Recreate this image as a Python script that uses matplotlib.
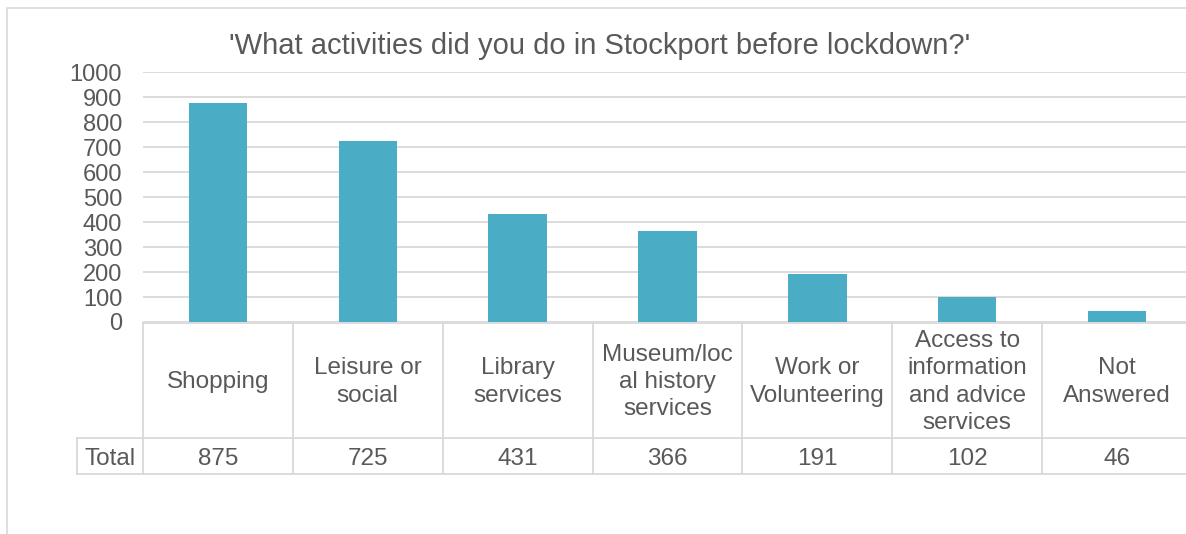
import matplotlib

matplotlib.use("Agg")
import matplotlib.pyplot as plt
from matplotlib.patches import Rectangle

categories = [
    "Shopping",
    "Leisure or\nsocial",
    "Library\nservices",
    "Museum/loc\nal history\nservices",
    "Work or\nVolunteering",
    "Access to\ninformation\nand advice\nservices",
    "Not\nAnswered",
]
totals = [875, 725, 431, 366, 191, 102, 46]
y_ticks = [0, 100, 200, 300, 400, 500, 600, 700, 800, 900, 1000]
title = "'What activities did you do in Stockport before lockdown?'"

BAR = "#4BACC6"
TEXT = "#595959"
GRID = "#D9D9D9"
W, H = 1186, 534
FS = 17.5

plt.rcParams["font.family"] = ["Liberation Sans", "DejaVu Sans"]

fig = plt.figure(figsize=(W / 100, H / 100), dpi=100)


def px_box(x0, y0, x1, y1):
    """Convert a pixel box (top-left origin) into figure fractions."""
    return [x0 / W, 1 - y1 / H, (x1 - x0) / W, (y1 - y0) / H]


# chart area frame (runs off the right and bottom edges)
fig.patches.append(Rectangle((7 / W, -0.1), 1.2, 1 - 8 / H + 0.1, transform=fig.transFigure,
                             fill=False, ec=GRID, lw=1.2))

plot_left, plot_right = 143, 1192
ax = fig.add_axes(px_box(plot_left, 72, plot_right, 322))
n = len(categories)
ax.bar([i + 0.5 for i in range(n)], totals, width=0.39, color=BAR, zorder=3)
ax.set_xlim(0, n)
ax.set_ylim(0, 1000)
ax.set_yticks(y_ticks)
ax.set_yticklabels([str(v) for v in y_ticks], fontsize=17, color=TEXT)
ax.tick_params(axis="y", length=0, pad=15)
ax.set_xticks([])
ax.grid(axis="y", color=GRID, lw=1.3, zorder=0)
for side in ax.spines.values():
    side.set_visible(False)

# data table under the plot
tab = fig.add_axes(px_box(plot_left, 322, plot_right, 475))
tab.set_xlim(0, n)
tab.set_ylim(475, 322)
tab.axis("off")
row_split = 438
left_cell = (77 - plot_left) / ((plot_right - plot_left) / n)
line_kw = dict(color=GRID, lw=1.3, clip_on=False)
tab.plot([0, n], [323, 323], **line_kw)
tab.plot([left_cell, n], [row_split, row_split], **line_kw)
tab.plot([left_cell, n], [474, 474], **line_kw)
tab.plot([left_cell, left_cell], [row_split, 474], **line_kw)
for i in range(n + 1):
    tab.plot([i, i], [323, 474], **line_kw)

for i, (label, value) in enumerate(zip(categories, totals)):
    tab.text(i + 0.5, (322 + row_split) / 2 + 2, label, ha="center", va="center",
             fontsize=FS, color=TEXT, linespacing=1.31)
    tab.text(i + 0.5, (row_split + 475) / 2 + 3, str(value), ha="center", va="center",
             fontsize=FS, color=TEXT)
tab.text(left_cell / 2, (row_split + 475) / 2 + 3, "Total", ha="center", va="center",
         fontsize=FS, color=TEXT)

fig.text(600 / W, 1 - 46 / H, title, ha="center", va="center", fontsize=21, color=TEXT)

fig.savefig("out.png", dpi=100)
